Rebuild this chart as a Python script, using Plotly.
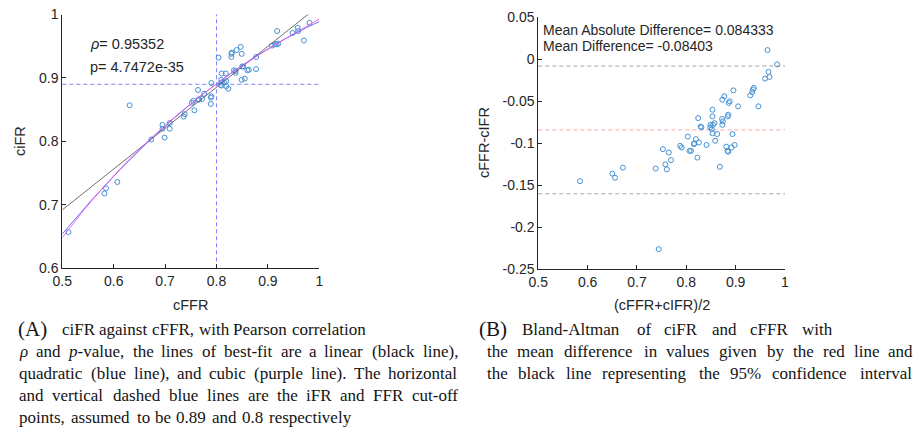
import re
import numpy as np
import plotly.graph_objects as go

# ---------------- data ----------------
cFFR = [0.970, 0.981, 0.959, 0.958, 0.948, 0.920, 0.917, 0.914, 0.908, 0.918,
        0.877, 0.855, 0.849, 0.863, 0.860, 0.877, 0.823, 0.852, 0.850, 0.819,
        0.789, 0.837, 0.834, 0.819, 0.815, 0.810, 0.808, 0.810, 0.789, 0.790,
        0.809, 0.818, 0.849, 0.757, 0.772, 0.766, 0.776, 0.790, 0.810, 0.847,
        0.829, 0.839, 0.736, 0.738, 0.699, 0.709, 0.752, 0.755, 0.764, 0.829,
        0.830, 0.804, 0.709, 0.695, 0.695, 0.673, 0.607, 0.582, 0.585, 0.512,
        0.631, 0.765, 0.837]
ciFR = [0.959, 0.987, 0.974, 0.979, 0.971, 0.954, 0.953, 0.953, 0.951, 0.974,
        0.914, 0.899, 0.897, 0.913, 0.912, 0.933, 0.883, 0.918, 0.918, 0.887,
        0.859, 0.908, 0.912, 0.895, 0.893, 0.888, 0.889, 0.893, 0.869, 0.871,
        0.897, 0.907, 0.938, 0.849, 0.867, 0.866, 0.875, 0.892, 0.907, 0.949,
        0.933, 0.944, 0.839, 0.843, 0.806, 0.820, 0.861, 0.864, 0.881, 0.938,
        0.940, 0.932, 0.829, 0.820, 0.826, 0.803, 0.736, 0.718, 0.726, 0.657,
        0.857, 0.866, 0.911]

rho_text = "0.95352"
p_text = "4.7472e-35"
mean_abs_diff_text = "0.084333"
mean_diff_text = "-0.08403"

mean_diff = -0.08403
loa_upper = -0.0080
loa_lower = -0.1601
ifr_cutoff = 0.89
ffr_cutoff = 0.8

left_xticks = [0.5, 0.6, 0.7, 0.8, 0.9, 1.0]
left_xticklabels = ["0.5", "0.6", "0.7", "0.8", "0.9", "1"]
left_yticks = [0.6, 0.7, 0.8, 0.9, 1.0]
left_yticklabels = ["0.6", "0.7", "0.8", "0.9", "1"]
right_xticks = [0.5, 0.6, 0.7, 0.8, 0.9, 1.0]
right_xticklabels = ["0.5", "0.6", "0.7", "0.8", "0.9", "1"]
right_yticks = [0.05, 0.0, -0.05, -0.1, -0.15, -0.2, -0.25]
right_yticklabels = ["0.05", "0", "-0.05", "-0.1", "-0.15", "-0.2", "-0.25"]

left_xlabel = "cFFR"
left_ylabel = "ciFR"
right_xlabel = "(cFFR+cIFR)/2"
right_ylabel = "cFFR-cIFR"

# ---------------- derived quantities ----------------
c = np.array(cFFR)
i = np.array(ciFR)
ba_mean = (c + i) / 2
ba_diff = c - i

W, H = 917, 437


def px(x):
    return x / W


def py(y):
    return 1 - y / H


SANS = "Liberation Sans, Arial, sans-serif"
SERIF = "Liberation Serif, Times New Roman, serif"
AXC = "rgb(38,38,38)"
MARKER_C = "rgb(70,145,212)"

fig = go.Figure()

# left scatter
fig.add_trace(go.Scatter(x=cFFR, y=ciFR, mode="markers", xaxis="x", yaxis="y",
                         marker=dict(symbol="circle-open", size=5, color=MARKER_C,
                                     line=dict(width=1, color=MARKER_C)),
                         showlegend=False, hoverinfo="x+y"))

# fits
xs = np.linspace(left_xticks[0], left_xticks[-1], 200)
fit_styles = [(1, "rgb(95,95,95)"), (2, "rgb(95,95,255)"), (3, "rgb(235,95,235)")]
for deg, col in fit_styles:
    coef = np.polyfit(c, i, deg)
    fig.add_trace(go.Scatter(x=xs, y=np.polyval(coef, xs), mode="lines",
                             xaxis="x", yaxis="y", line=dict(color=col, width=0.9),
                             showlegend=False, hoverinfo="skip"))

# Bland-Altman scatter
fig.add_trace(go.Scatter(x=ba_mean, y=ba_diff, mode="markers", xaxis="x2", yaxis="y2",
                         marker=dict(symbol="circle-open", size=5, color=MARKER_C,
                                     line=dict(width=1, color=MARKER_C)),
                         showlegend=False, hoverinfo="x+y"))

shapes = [
    dict(type="line", xref="x domain", x0=0, x1=1, yref="y", y0=ifr_cutoff, y1=ifr_cutoff,
         line=dict(color="rgb(130,130,255)", width=1, dash="4px,3px"), layer="below"),
    dict(type="line", xref="x", x0=ffr_cutoff, x1=ffr_cutoff, yref="y domain", y0=0, y1=1,
         line=dict(color="rgb(130,130,255)", width=1, dash="4px,3px"), layer="below"),
    dict(type="line", xref="x2 domain", x0=0, x1=1, yref="y2", y0=loa_upper, y1=loa_upper,
         line=dict(color="rgb(165,165,165)", width=1, dash="4px,3px"), layer="below"),
    dict(type="line", xref="x2 domain", x0=0, x1=1, yref="y2", y0=mean_diff, y1=mean_diff,
         line=dict(color="rgb(255,165,165)", width=1, dash="4px,3px"), layer="below"),
    dict(type="line", xref="x2 domain", x0=0, x1=1, yref="y2", y0=loa_lower, y1=loa_lower,
         line=dict(color="rgb(165,165,165)", width=1, dash="4px,3px"), layer="below"),
]


def axis(domain, rng, tv, tt, anchor):
    return dict(domain=domain, range=rng, tickvals=tv, ticktext=tt, anchor=anchor,
                ticks="inside", ticklen=4, tickwidth=1, tickcolor=AXC,
                showline=True, linecolor=AXC, linewidth=1, mirror=False,
                showgrid=False, zeroline=False, fixedrange=True, automargin=False,
                tickfont=dict(family=SANS, size=14, color=AXC))


layout_axes = dict(
    xaxis=axis([px(62.3), px(319.3)], [0.5, 1.0], left_xticks, left_xticklabels, "y"),
    yaxis=axis([py(268.3), py(14.5)], [0.6, 1.0], left_yticks, left_yticklabels, "x"),
    xaxis2=axis([px(538.3), px(785)], [0.5, 1.0], right_xticks, right_xticklabels, "y2"),
    yaxis2=axis([py(269.3), py(17.3)], [-0.25, 0.05], right_yticks, right_yticklabels, "x2"),
)

annotations = []


def txt(s, x, y, size, family=SANS, color=AXC, xanchor="left", angle=0):
    annotations.append(dict(text=s, x=px(x), y=py(y), xref="paper", yref="paper",
                            xanchor=xanchor, yanchor="middle", showarrow=False,
                            textangle=angle,
                            font=dict(family=family, size=size, color=color)))


# axis titles
txt(left_xlabel, 190.8, 305, 14.5, xanchor="center")
txt(left_ylabel, 20, 141, 14.5, xanchor="center", angle=-90)
txt(right_xlabel, 661.6, 305, 14.5, xanchor="center")
txt(right_ylabel, 484, 143, 14.5, xanchor="center", angle=-90)

# in-plot statistics
txt("<i>ρ</i>= " + rho_text, 88, 44, 14.5)
txt("p= " + p_text, 88, 67, 14.5)
txt("Mean Absolute Difference= " + mean_abs_diff_text, 541, 30, 14)
txt("Mean Difference= " + mean_diff_text, 541, 45.5, 14)

# ---------------- captions (Times-metric word placement for justification) ----------------
TW = {
    'a': 444, 'b': 500, 'c': 444, 'd': 500, 'e': 444, 'f': 333, 'g': 500, 'h': 500, 'i': 278,
    'j': 278, 'k': 500, 'l': 278, 'm': 778, 'n': 500, 'o': 500, 'p': 500, 'q': 500, 'r': 333,
    's': 389, 't': 278, 'u': 500, 'v': 500, 'w': 722, 'x': 500, 'y': 500, 'z': 444,
    'A': 722, 'B': 667, 'C': 667, 'D': 722, 'E': 611, 'F': 556, 'G': 722, 'H': 722, 'I': 333,
    'J': 389, 'K': 722, 'L': 611, 'M': 889, 'N': 722, 'O': 722, 'P': 556, 'Q': 722, 'R': 667,
    'S': 556, 'T': 611, 'U': 722, 'V': 722, 'W': 944, 'X': 722, 'Y': 722, 'Z': 611,
    '.': 250, ',': 250, '-': 333, '(': 333, ')': 333, '%': 833, ':': 278, 'ρ': 540, ' ': 250,
}
RENDER_FACTOR = 1.045


def tw(s, size):
    s = re.sub(r"<[^>]+>", "", s)
    return sum(TW.get(ch, 500) for ch in s) * size / 1000.0 * RENDER_FACTOR


CAP = 17.0
TAG = 21
CAP_C = "rgb(20,20,20)"


def cap_line(text, x0, x1, y, size=CAP):
    words = text.split(" ")
    widths = [tw(w, size) for w in words]
    gap = 0.26 * size
    if x1 is not None and len(words) > 1:
        gap = max(gap * 0.6, (x1 - x0 - sum(widths)) / (len(words) - 1))
    x = x0
    for w, wd in zip(words, widths):
        txt(w, x, y - 2, size, family=SERIF, color=CAP_C)
        x += wd + gap


left_caption = [
    ("ciFR against cFFR, with Pearson correlation", 60, 366, 331),
    ("<i>ρ</i> and <i>p</i>-value, the lines of best-fit are a linear (black line),", 17, 458, 353),
    ("quadratic (blue line), and cubic (purple line). The horizontal", 17, 458, 375),
    ("and vertical dashed blue lines are the iFR and FFR cut-off", 17, 458, 397),
    ("points, assumed to be 0.89 and 0.8 respectively", 17, None, 419),
]
right_caption = [
    ("Bland-Altman of ciFR and cFFR with", 520, 832, 331),
    ("the mean difference in values given by the red line and", 485, 912, 353),
    ("the black line representing the 95% confidence interval", 485, 912, 375),
]

txt("(A)", 16, 329, TAG, family=SERIF, color=CAP_C)
txt("(B)", 477, 329, TAG, family=SERIF, color=CAP_C)
for t, a, b, y in left_caption + right_caption:
    cap_line(t, a, b, y)

fig.update_layout(
    width=W, height=H, margin=dict(l=0, r=0, t=0, b=0),
    paper_bgcolor="white", plot_bgcolor="white",
    shapes=shapes, annotations=annotations, showlegend=False,
    **layout_axes,
)

fig.write_html("out.html", config={"displayModeBar": False},
               post_script="document.body.style.margin='0px';")
